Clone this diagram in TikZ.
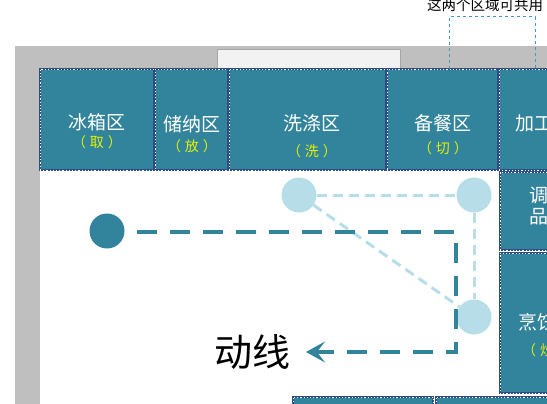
\documentclass[tikz,border=0pt]{standalone}
\usepackage{fontspec}
\setmainfont{Noto Sans CJK SC}
\usepackage{tikz}
\usetikzlibrary{arrows.meta, positioning}
\definecolor{wallgray}{HTML}{BFBFBF}
\definecolor{zoneteal}{HTML}{31849B}
\definecolor{zoneedge}{HTML}{2E4C86}
\definecolor{dotlight}{HTML}{B7DEE8}
\definecolor{subyellow}{HTML}{E6F200}
\definecolor{shareline}{HTML}{3F9DB8}
\newcommand{\paren}[1]{（\hspace{4pt}#1\hspace{4pt}）}

\begin{document}
\begin{tikzpicture}[
        x=1pt, y=-1pt,
        zone/.style={rectangle, fill=zoneteal, draw=zoneedge, line width=1.4pt, inner sep=0pt, outer sep=0pt,
            postaction={draw=white, line width=0.7pt, dash pattern=on 1.2pt off 2pt}},
        zonetext/.style={text=white, font=\fontsize{19pt}{22pt}\selectfont, inner sep=0pt},
        subtext/.style={text=subyellow, font=\fontsize{14pt}{16pt}\selectfont, inner sep=0pt},
        window/.style={rectangle, fill=gray!10, draw=gray!70, line width=0.8pt, minimum width=183pt, minimum height=19pt},
        darkdot/.style={circle, fill=zoneteal, minimum size=35pt, inner sep=0pt},
        lightdot/.style={circle, fill=dotlight, minimum size=35pt, inner sep=0pt},
        flowline/.style={draw=zoneteal, line width=4.5pt, dash pattern=on 20pt off 13pt,
            -{Stealth[length=19pt, width=21pt, inset=8pt]}},
        linkline/.style={draw=dotlight, line width=3pt, dash pattern=on 10pt off 6pt}
    ]
        \useasboundingbox (0,0) rectangle (547,404);
        \clip (0,0) rectangle (547,404);

        % walls and window
        \fill[wallgray] (15,46) rectangle (570,420);
        \fill[white] (40,69) rectangle (570,420);
        \node[window] (win) at (308.5,58.5) {};

        % counters
        \node[zone, minimum width=114pt, minimum height=101pt] (fridge) at (97,119.5) {};
        \node[zone, minimum width=73pt, minimum height=101pt] (storage) at (191.5,119.5) {};
        \node[zone, minimum width=157pt, minimum height=101pt] (sink) at (307.5,119.5) {};
        \node[zone, minimum width=111pt, minimum height=101pt] (prep) at (442.5,119.5) {};
        \node[zone, minimum width=61pt, minimum height=101pt] (process) at (529.5,119.5) {};
        \node[zone, minimum width=60pt, minimum height=78pt] (season) at (530,211) {};
        \node[zone, minimum width=60pt, minimum height=140pt] (cook) at (530,323) {};
        \node[zone, minimum width=140pt, minimum height=23pt] (bottomleft) at (363,408.5) {};
        \node[zone, minimum width=124pt, minimum height=23pt] (bottomright) at (498,408.5) {};

        \node[zonetext] (fridgetext) at (97,122) {冰箱区};
        \node[subtext] (fridgesub) at (97,142) {\paren{取}};
        \node[zonetext] (storagetext) at (192,124) {储纳区};
        \node[subtext] (storagesub) at (192,146) {\paren{放}};
        \node[zonetext] (sinktext) at (312,123) {洗涤区};
        \node[subtext] (sinksub) at (312,151) {\paren{洗}};
        \node[zonetext] (preptext) at (443,123) {备餐区};
        \node[subtext] (prepsub) at (443,148) {\paren{切}};
        \node[zonetext, anchor=west] (processtext) at (515,123) {加工区};
        \node[zonetext, anchor=west, align=left, font=\fontsize{19pt}{21pt}\selectfont] (seasontext) at (529,206) {调味\\品区};
        \node[zonetext, anchor=west] (cooktext) at (518,322) {烹饪区};
        \node[subtext, anchor=west] (cooksub) at (522,350) {\paren{炒}};

        % shared area note
        \draw[shareline, dashed, line width=1pt] (449,69) -- (449,17) -- (535,17) -- (535,69);
        \node[anchor=west, inner sep=0pt, font=\fontsize{14.5pt}{16pt}\selectfont] (sharenote) at (427,5) {这两个区域可共用};

        % flow
        \node[darkdot] (start) at (107,231) {};
        \node[lightdot] (sinkdot) at (299,195) {};
        \node[lightdot] (prepdot) at (474,195) {};
        \node[lightdot] (cookdot) at (474,317) {};
        \coordinate (bendtop) at (456,232);
        \coordinate (bendlow) at (456,352);
        \coordinate (flowend) at (306,352);

        \draw[linkline] (sinkdot) -- (prepdot);
        \draw[linkline] (prepdot) -- (cookdot);
        \draw[linkline] (sinkdot) -- (cookdot);
        \draw[flowline, shorten <=12pt] (start.east |- bendtop) -- (bendtop) -- (bendlow) -- (flowend);

        \node[font=\fontsize{38pt}{42pt}\selectfont, inner sep=0pt] (flowlabel) at (252,352) {动线};
    \end{tikzpicture}
\end{document}
